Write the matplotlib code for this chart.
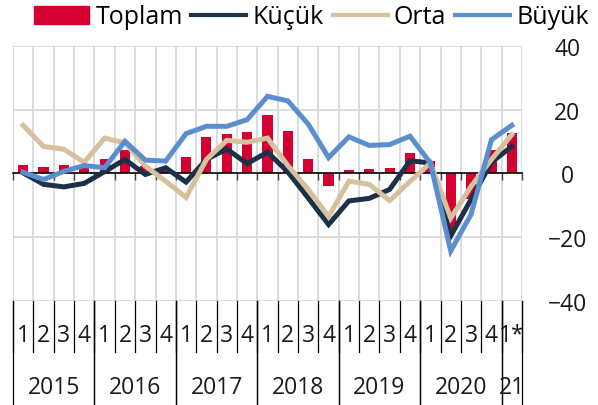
import numpy as np
import matplotlib
matplotlib.use('Agg')
import matplotlib.pyplot as plt
import matplotlib.transforms as mtransforms
from matplotlib.patches import Rectangle
from matplotlib.lines import Line2D

plt.rcParams['font.family'] = ['Open Sans', 'DejaVu Sans']

# quarterly series, 2015Q1 .. 2021Q1
quarters = ['1', '2', '3', '4'] * 6 + ['1*']
years = ['2015', '2016', '2017', '2018', '2019', '2020', '21']
year_len = [4, 4, 4, 4, 4, 4, 1]

toplam = [2.6, 2.0, 2.6, 2.1, 4.4, 7.5, 2.3, 1.2, 5.1, 11.4, 12.5, 12.9, 18.4,
          13.2, 4.4, -3.9, 1.0, 1.3, 1.7, 6.3, 3.9, -18.0, -8.0, 7.5, 12.7]
kucuk = [0.2, -3.4, -4.2, -3.1, 0.6, 4.4, -0.3, 1.8, -2.7, 4.4, 7.7, 3.1, 6.7,
         0.5, -7.7, -16.0, -8.6, -7.8, -5.0, 4.0, 3.3, -19.6, -8.1, 3.5, 8.5]
orta = [15.1, 8.5, 7.6, 3.5, 11.1, 9.6, 2.3, -2.4, -7.5, 4.4, 10.4, 9.8, 11.1,
        2.5, -5.0, -13.5, -2.4, -3.4, -8.5, -2.5, 3.3, -14.0, -4.0, 4.4, 12.2]
buyuk = [0.4, -1.9, 0.7, 2.5, 1.8, 10.1, 4.2, 3.9, 12.5, 14.8, 14.8, 16.9, 24.2,
         22.8, 15.5, 5.0, 11.5, 8.8, 9.1, 11.7, 3.3, -24.3, -12.8, 10.6, 15.1]

c_top = '#D50032'
c_kuc = '#1C3048'
c_ort = '#D6C19E'
c_buy = '#5B8ECF'
grid_c = '#D9D9D9'

n = len(quarters)
x = np.arange(n)

fig = plt.figure(figsize=(5.98, 4.06), dpi=100)
ax = fig.add_axes([0.0217, 0.2562, 0.8512, 0.628])

ax.set_xlim(-0.5, n - 0.5)
ax.set_ylim(-40, 40)

# grid
bounds = np.arange(n + 1) - 0.5
for b in bounds:
    ax.axvline(b, color=grid_c, lw=1.3, zorder=0)
for yv in [-40, -20, 20, 40]:
    ax.axhline(yv, color=grid_c, lw=1.3, zorder=0)

ax.bar(x, toplam, width=0.5, color=c_top, zorder=2)
ax.plot(x, kucuk, color=c_kuc, lw=3.6, zorder=3, solid_joinstyle='miter')
ax.plot(x, orta, color=c_ort, lw=3.6, zorder=4, solid_joinstyle='miter')
ax.plot(x, buyuk, color=c_buy, lw=3.6, zorder=5, solid_joinstyle='miter')

# category axis sits on zero
for s in ['top', 'left', 'right']:
    ax.spines[s].set_visible(False)
ax.spines['bottom'].set_position(('data', 0))
ax.spines['bottom'].set_color('black')
ax.spines['bottom'].set_linewidth(1.2)
ax.spines['bottom'].set_zorder(2.5)
ax.set_xticks(bounds)
ax.tick_params(axis='x', direction='out', length=5, width=1, color='#404040',
               labelbottom=False)

ax.set_yticks([-40, -20, 0, 20, 40])
ax.tick_params(axis='y', left=False, right=False, labelleft=False,
               labelright=True, labelsize=16.5, pad=29, labelcolor='#1a1a1a')
for lab in ax.get_yticklabels():
    lab.set_horizontalalignment('center')

# two-level labels under the plot
tr = mtransforms.blended_transform_factory(ax.transData, ax.transAxes)
for i, q in enumerate(quarters):
    ax.text(i, -0.135, q, transform=tr, ha='center', va='center',
            fontsize=16.5, color='#1a1a1a')
for b in bounds:
    ax.add_line(Line2D([b, b], [0, -0.2], transform=tr, color='black',
                       lw=0.9, clip_on=False))

start = 0
for yr, ln in zip(years, year_len):
    ax.text(start + (ln - 1) / 2, -0.337, yr, transform=tr, ha='center',
            va='center', fontsize=16.5, color='#1a1a1a')
    for b in [start - 0.5, start + ln - 0.5]:
        ax.add_line(Line2D([b, b], [0, -0.41], transform=tr, color='black',
                           lw=0.9, clip_on=False))
    start += ln

handles = [Rectangle((0, 0), 1, 1, color=c_top),
           Line2D([], [], color=c_kuc, lw=3),
           Line2D([], [], color=c_ort, lw=3),
           Line2D([], [], color=c_buy, lw=3)]
fig.legend(handles, ['Toplam', 'Küçük', 'Orta', 'Büyük'], ncol=4,
           loc='center left', bbox_to_anchor=(34 / 598, 1 - 18 / 406),
           frameon=False, fontsize=18, handlelength=2.2, handletextpad=0.25,
           columnspacing=0.35, borderpad=0, borderaxespad=0)

fig.savefig('out.png', dpi=100)
